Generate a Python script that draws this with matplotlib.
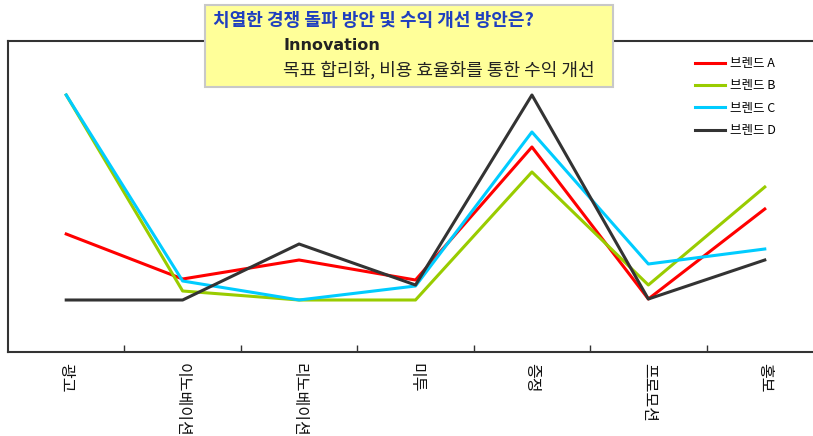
import matplotlib.pyplot as plt
from matplotlib.patches import Rectangle

plt.rcParams['font.family'] = ['Noto Sans CJK KR', 'DejaVu Sans']

categories = ['광고', '이노베이션', '리노베이션', '미투', '증정', '프로모션', '홍보']
brand_a = [11.8, 7.3, 9.2, 7.2, 20.5, 5.3, 14.3]
brand_b = [25.7, 6.1, 5.2, 5.2, 18.0, 6.7, 16.5]
brand_c = [25.7, 7.1, 5.2, 6.6, 22.0, 8.8, 10.3]
brand_d = [5.2, 5.2, 10.8, 6.7, 25.7, 5.3, 9.2]
labels = ['브렌드 A', '브렌드 B', '브렌드 C', '브렌드 D']
colors = ['#FF0000', '#99CC00', '#00CCFF', '#333333']

fig = plt.figure(figsize=(8.13, 4.36), dpi=100)
ax = fig.add_axes([8 / 813, 84 / 436, 815 / 813, 311 / 436])

x = range(len(categories))
for vals, lab, col in zip([brand_a, brand_b, brand_c, brand_d], labels, colors):
    ax.plot(x, vals, color=col, lw=2.2, label=lab)

ax.set_xlim(-0.5, len(categories) - 0.5)
ax.set_ylim(0, 31.1)
ax.set_yticks([])

# category labels centred, tick marks between categories
ax.set_xticks(list(x))
ax.set_xticklabels(categories, rotation=270, fontsize=11.5, color='#111111',
                   va='top', ha='center')
ax.tick_params(axis='x', which='major', length=0, pad=8)
ax.set_xticks([i + 0.5 for i in range(len(categories) - 1)], minor=True)
ax.tick_params(axis='x', which='minor', direction='in', length=5,
               width=1, color='#333333')

for s in ax.spines.values():
    s.set_color('#333333')
    s.set_linewidth(1.5)

ax.legend(loc='upper left', bbox_to_anchor=(676 / 815, 0.985), frameon=False,
          fontsize=9, handlelength=2.4, handletextpad=0.4, labelspacing=0.75)

# callout box
fig.patches.append(Rectangle((205 / 813, 1 - 87 / 436), 408 / 813, 82 / 436,
                             transform=fig.transFigure, facecolor='#FFFF99',
                             edgecolor='#C8C8C8', lw=1.5, zorder=5))
fig.text(213 / 813, 1 - 20 / 436, '치열한 경쟁 돌파 방안 및 수익 개선 방안은?',
         fontsize=13, fontweight='bold', color='#1F3FBF', va='center', zorder=6)
fig.text(283 / 813, 1 - 45 / 436, 'Innovation', fontsize=11.5,
         family=['DejaVu Sans'], fontweight='bold', color='#222222',
         va='center', zorder=6)
fig.text(283 / 813, 1 - 70 / 436, '목표 합리화, 비용 효율화를 통한 수익 개선',
         fontsize=13, color='#222222', va='center', zorder=6)

fig.savefig('out.png', dpi=100)
